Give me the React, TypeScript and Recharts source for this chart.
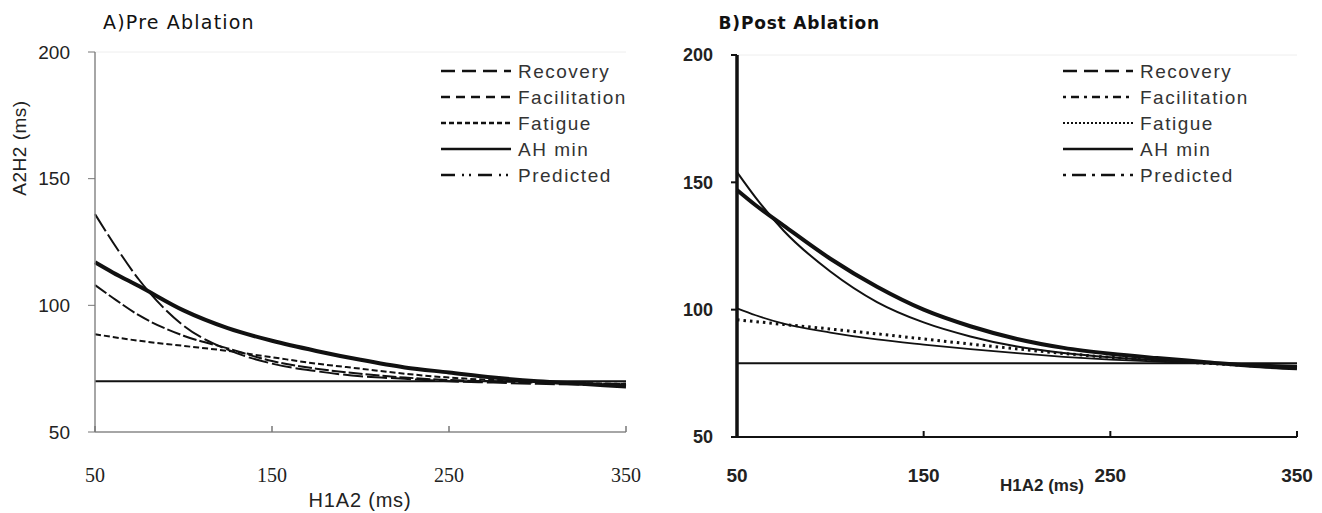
import { LineChart, Line, XAxis, YAxis, ReferenceLine } from "recharts";

const h1a2 = [50, 60, 75, 100, 125, 150, 175, 200, 225, 250, 275, 300, 325, 350];

// A) pre ablation
const preRecovery = [136, 125, 110, 92, 82.5, 77, 74, 72, 71, 70, 69.5, 69, 68.7, 68.5];
const preFacilitation = [108, 103, 96, 88, 83, 78, 75, 73, 71.5, 70.5, 70, 69.5, 69, 69];
const preFatigue = [88.6, 87.5, 86, 84, 82, 79.5, 77, 75, 73, 71.5, 70.5, 69.8, 69.3, 69];
const prePredicted = [117, 113, 107.5, 98, 91, 86, 82, 78.5, 75.5, 73.5, 71.5, 70, 69, 68];
const preAhMin = 70;

// B) post ablation
const postRecovery = [154, 144, 131, 115, 103, 95, 89.5, 85.5, 83, 81.3, 80.1, 79.2, 78.5, 78];
const postFacilitation = [100.5, 97.8, 94.5, 91, 88.3, 86.3, 84.5, 82.9, 81.5, 80.4, 79.6, 78.9, 78.2, 77.6];
const postFatigue = [96, 95.3, 94.2, 92.4, 90.5, 88.5, 86.5, 84.6, 82.8, 81.3, 80.1, 79, 78, 77.2];
const postPredicted = [147, 141, 133, 120, 109, 100, 93.5, 88.5, 85, 82.7, 81, 79.5, 78, 77];
const postAhMin = 79;

const xTicks = [50, 150, 250, 350];
const yTicks = [50, 100, 150, 200];
const legendNames = ["Recovery", "Facilitation", "Fatigue", "AH min", "Predicted"];

const preData = h1a2.map((x, i) => ({
  x,
  recovery: preRecovery[i],
  facilitation: preFacilitation[i],
  fatigue: preFatigue[i],
  predicted: prePredicted[i],
}));

const postData = h1a2.map((x, i) => ({
  x,
  recovery: postRecovery[i],
  facilitation: postFacilitation[i],
  fatigue: postFatigue[i],
  predicted: postPredicted[i],
}));

const INK = "#111";

function PreXTick({ x, y, payload }: any) {
  return (
    <g>
      <line x1={x} x2={x} y1={y} y2={y - 6} stroke="#777" strokeWidth={1.5} />
      <text x={x} y={y + 50} textAnchor="middle" fontFamily="'Liberation Serif', serif" fontSize={20} fill="#222">
        {payload.value}
      </text>
    </g>
  );
}

function PostXTick({ x, y, payload }: any) {
  return (
    <g>
      <line x1={x} x2={x} y1={y} y2={y - 6} stroke={INK} strokeWidth={2} />
      <text x={x} y={y + 45} textAnchor="middle" fontFamily="'Liberation Sans', Arial, sans-serif" fontWeight="bold" fontSize={19} fill="#222">
        {payload.value}
      </text>
    </g>
  );
}

// legend sample dash patterns, one per series
const preLegendDash = ["14 7", "9 6", "5 3", "", "14 7 2 5 2 7"];
const postLegendDash = ["14 7", "3 5 8 5", "2 2", "", "3 6 14 6"];

function Legend({ x, y, dashes, thin }: { x: number; y: number; dashes: string[]; thin?: boolean }) {
  return (
    <g>
      {legendNames.map((name, i) => (
        <g key={name}>
          <line
            x1={x}
            x2={x + 70}
            y1={y + i * 26}
            y2={y + i * 26}
            stroke={INK}
            strokeWidth={i === 2 && thin ? 2 : 2.5}
            strokeDasharray={dashes[i] || undefined}
          />
          <text
            x={x + 77}
            y={y + i * 26 + 6.5}
            fontFamily="'Liberation Sans', Arial, sans-serif"
            fontSize={19}
            letterSpacing={1.5}
            fill="#333"
          >
            {name}
          </text>
        </g>
      ))}
    </g>
  );
}

export default function App() {
  return (
    <div style={{ position: "absolute", left: 0, top: 0, width: 1322, height: 513, background: "#fff" }}>
      <div style={{ position: "absolute", left: 0, top: 0 }}>
        <LineChart width={660} height={513} data={preData} margin={{ top: 52, right: 34, left: 35, bottom: 0 }}>
          <XAxis
            type="number"
            dataKey="x"
            domain={[50, 350]}
            ticks={xTicks}
            height={81}
            tickSize={0}
            tickMargin={0}
            tick={<PreXTick />}
            axisLine={{ stroke: "#888", strokeWidth: 1.5 }}
          />
          <YAxis
            type="number"
            domain={[50, 200]}
            ticks={yTicks}
            width={60}
            tickSize={7}
            tickMargin={18}
            tickLine={{ stroke: "#777" }}
            axisLine={{ stroke: "#888", strokeWidth: 1.5 }}
            tick={{ fontSize: 19, fill: "#222", fontFamily: "'Liberation Sans', Arial, sans-serif" }}
          />
          <ReferenceLine y={200} stroke="#eee" />
          <ReferenceLine y={preAhMin} stroke={INK} strokeWidth={2} />
          <Line type="monotone" dataKey="fatigue" stroke={INK} strokeWidth={2} strokeDasharray="6 3" dot={false} isAnimationActive={false} />
          <Line type="monotone" dataKey="facilitation" stroke={INK} strokeWidth={2} strokeDasharray="14 3" dot={false} isAnimationActive={false} />
          <Line type="monotone" dataKey="recovery" stroke={INK} strokeWidth={2} strokeDasharray="20 4" dot={false} isAnimationActive={false} />
          <Line type="monotone" dataKey="predicted" stroke={INK} strokeWidth={4} dot={false} isAnimationActive={false} />
        </LineChart>
      </div>

      <div style={{ position: "absolute", left: 660, top: 0 }}>
        <LineChart width={662} height={513} data={postData} margin={{ top: 55, right: 25, left: 17, bottom: 0 }}>
          <XAxis
            type="number"
            dataKey="x"
            domain={[50, 350]}
            ticks={xTicks}
            height={76}
            tickSize={0}
            tickMargin={0}
            tick={<PostXTick />}
            axisLine={{ stroke: INK, strokeWidth: 2 }}
          />
          <YAxis
            type="number"
            domain={[50, 200]}
            ticks={yTicks}
            width={60}
            tickSize={6}
            tickMargin={18}
            tickLine={{ stroke: INK, strokeWidth: 2 }}
            axisLine={{ stroke: INK, strokeWidth: 3.5 }}
            tick={{ fontSize: 18, fill: "#222", fontWeight: "bold", fontFamily: "'Liberation Sans', Arial, sans-serif" }}
          />
          <ReferenceLine y={200} stroke="#eee" />
          <ReferenceLine y={postAhMin} stroke={INK} strokeWidth={2} />
          <Line type="monotone" dataKey="fatigue" stroke={INK} strokeWidth={3} strokeDasharray="2.5 4" dot={false} isAnimationActive={false} />
          <Line type="monotone" dataKey="facilitation" stroke={INK} strokeWidth={1.8} dot={false} isAnimationActive={false} />
          <Line type="monotone" dataKey="recovery" stroke={INK} strokeWidth={2} dot={false} isAnimationActive={false} />
          <Line type="monotone" dataKey="predicted" stroke={INK} strokeWidth={4} dot={false} isAnimationActive={false} />
        </LineChart>
      </div>

      <svg width={1322} height={513} style={{ position: "absolute", left: 0, top: 0, pointerEvents: "none" }}>
        <text x={103} y={29} fontFamily="'DejaVu Sans', sans-serif" fontSize={19} letterSpacing={1.2} fill="#111">
          A)Pre  Ablation
        </text>
        <text x={880} y={29} textAnchor="end" fontFamily="'DejaVu Sans', sans-serif" fontWeight="bold" fontSize={17} letterSpacing={0.8} fill="#111">
          B)Post  Ablation
        </text>
        <text
          transform="translate(26 148) rotate(-90)"
          textAnchor="middle"
          fontFamily="'Liberation Sans', Arial, sans-serif"
          fontSize={19}
          letterSpacing={0.5}
          fill="#222"
        >
          A2H2 (ms)
        </text>
        <text x={360} y={507} textAnchor="middle" fontFamily="'Liberation Sans', Arial, sans-serif" fontSize={20} letterSpacing={0.8} fill="#222">
          H1A2 (ms)
        </text>
        <text x={1042} y={491} textAnchor="middle" fontFamily="'Liberation Sans', Arial, sans-serif" fontWeight="bold" fontSize={17} fill="#222">
          H1A2 (ms)
        </text>
        <Legend x={441} y={71} dashes={preLegendDash} />
        <Legend x={1063} y={71} dashes={postLegendDash} thin />
      </svg>
    </div>
  );
}
